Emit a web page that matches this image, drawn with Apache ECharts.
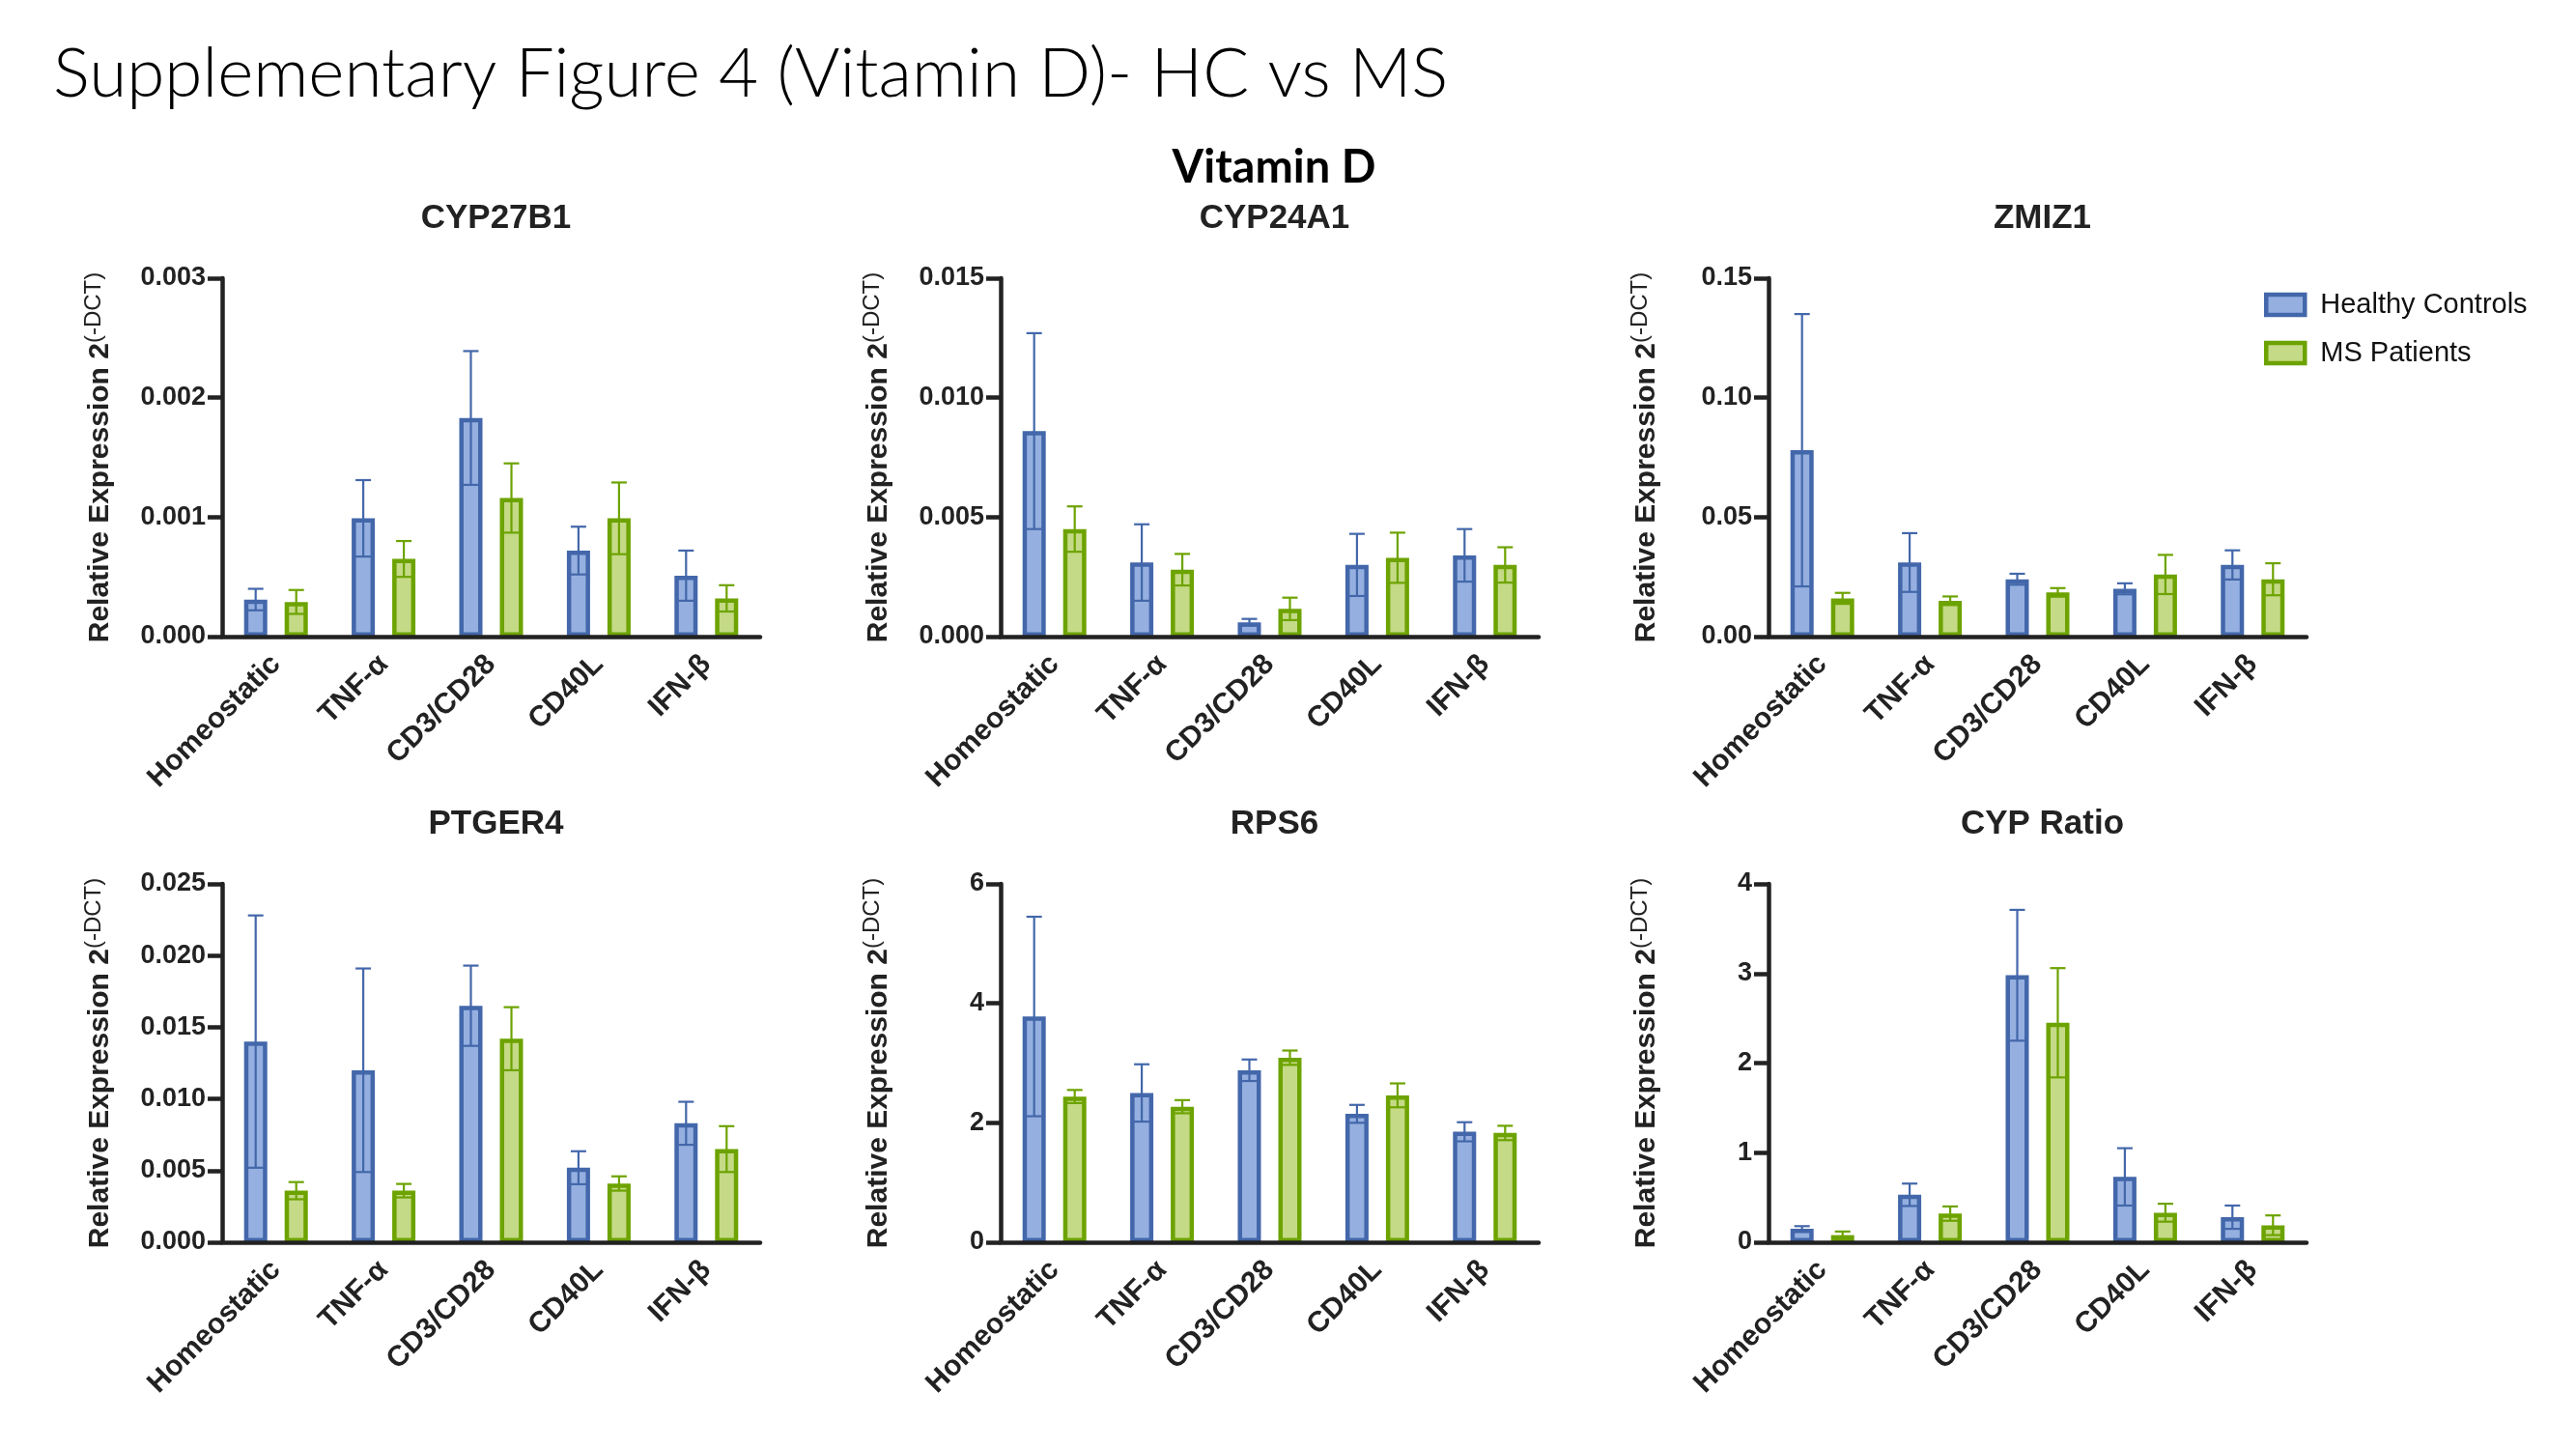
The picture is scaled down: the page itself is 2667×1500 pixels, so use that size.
<!DOCTYPE html>
<html>
<head>
<meta charset="utf-8">
<script src="https://cdn.jsdelivr.net/npm/echarts@6/dist/echarts.min.js"></script>
<style>
  html, body { margin: 0; padding: 0; background: #fff; }
  #main { width: 2667px; height: 1500px; }
</style>
</head>
<body>
<div id="main"></div>
<script type="text/javascript">
    // categories shared by every panel
    var categories = ['Homeostatic', 'TNF-\u03b1', 'CD3/CD28', 'CD40L', 'IFN-\u03b2'];
    var panelTitles = ['CYP27B1', 'CYP24A1', 'ZMIZ1', 'PTGER4', 'RPS6', 'CYP Ratio'];

    // y axis ranges (max, step) and tick label decimals
    var yMax = [0.003, 0.015, 0.15, 0.025, 6, 4];
    var yStep = [0.001, 0.005, 0.05, 0.005, 2, 1];
    var yDecimals = [3, 3, 2, 3, 0, 0];

    // means
    var hcMean = [
        [0.00031, 0.00099, 0.00183, 0.00072, 0.00051],
        [0.0086, 0.0031, 0.0006, 0.0030, 0.0034],
        [0.078, 0.031, 0.024, 0.020, 0.030],
        [0.0140, 0.0120, 0.0165, 0.0052, 0.0083],
        [3.78, 2.50, 2.88, 2.15, 1.85],
        [0.15, 0.53, 2.98, 0.73, 0.28]
    ];
    var msMean = [
        [0.00029, 0.00065, 0.00116, 0.00099, 0.00032],
        [0.0045, 0.0028, 0.00116, 0.0033, 0.0030],
        [0.016, 0.015, 0.0185, 0.026, 0.024],
        [0.0036, 0.0036, 0.0142, 0.0041, 0.0065],
        [2.44, 2.27, 3.09, 2.46, 1.83],
        [0.08, 0.32, 2.45, 0.33, 0.19]
    ];
    // error (SEM)
    var hcErr = [
        [0.00009, 0.00032, 0.00056, 0.00020, 0.00021],
        [0.0041, 0.0016, 0.00014, 0.0013, 0.0011],
        [0.057, 0.0123, 0.0023, 0.0023, 0.0061],
        [0.0088, 0.0071, 0.0028, 0.00115, 0.0015],
        [1.67, 0.48, 0.18, 0.15, 0.16],
        [0.03, 0.125, 0.73, 0.32, 0.13]
    ];
    var msErr = [
        [0.00010, 0.00015, 0.00029, 0.00030, 0.00011],
        [0.00095, 0.00066, 0.00047, 0.00105, 0.00074],
        [0.0023, 0.0018, 0.0018, 0.0082, 0.0067],
        [0.0006, 0.00047, 0.0022, 0.0005, 0.0016],
        [0.11, 0.11, 0.12, 0.20, 0.12],
        [0.04, 0.08, 0.61, 0.10, 0.11]
    ];

    var FONT = "'Liberation Sans', Arial, Helvetica, sans-serif";
    var AXIS = '#222222';
    var HC_LINE = '#4367AA', HC_FILL = '#95B0E0';
    var MS_LINE = '#6DA300', MS_FILL = '#C4DA86';
    var BAR_W = 24, BAR_GAP = 0.75;

    var gridLeft = [230, 1036, 1831];
    var gridTop = [288, 915];
    var GRID_W = 557, GRID_H = 371;

    var chart = echarts.init(document.getElementById('main'));

    var grids = [], xAxes = [], yAxes = [], series = [], titles = [];

    function errorSeries(name, idx, means, errs, color, offset) {
        var data = means.map(function (m, i) { return [i, m, errs[i]]; });
        return {
            type: 'custom',
            name: name,
            xAxisIndex: idx,
            yAxisIndex: idx,
            z: 4,
            silent: true,
            data: data,
            renderItem: function (params, api) {
                var c = api.value(0), m = api.value(1), e = api.value(2);
                var hi = api.coord([c, m + e]);
                var lo = api.coord([c, m - e]);
                var x = hi[0] + offset;
                var capHalf = 8;
                var st = { stroke: color, lineWidth: 2.2 };
                return {
                    type: 'group',
                    children: [
                        { type: 'line', shape: { x1: x, y1: hi[1], x2: x, y2: lo[1] }, style: st },
                        { type: 'line', shape: { x1: x - capHalf, y1: hi[1], x2: x + capHalf, y2: hi[1] }, style: st },
                        { type: 'line', shape: { x1: x - capHalf, y1: lo[1], x2: x + capHalf, y2: lo[1] }, style: st }
                    ]
                };
            }
        };
    }

    for (var i = 0; i < 6; i++) {
        var col = i % 3, row = Math.floor(i / 3);
        grids.push({ left: gridLeft[col], top: gridTop[row], width: GRID_W, height: GRID_H, containLabel: false });
        titles.push({
            text: panelTitles[i],
            left: gridLeft[col] + GRID_W / 2,
            top: gridTop[row] - 84,
            textAlign: 'center',
            textStyle: { fontFamily: FONT, fontSize: 35, fontWeight: 'bold', color: AXIS }
        });
        xAxes.push({
            type: 'category',
            gridIndex: i,
            data: categories,
            z: 6,
            axisLine: { lineStyle: { color: AXIS, width: 4.5 } },
            axisTick: { alignWithLabel: true, length: 16, lineStyle: { color: AXIS, width: 4.5 } },
            axisLabel: { rotate: 45, margin: 24, fontFamily: FONT, fontSize: 30, fontWeight: 'bold', color: AXIS },
            splitLine: { show: false }
        });
        (function (dec) {
            yAxes.push({
                type: 'value',
                gridIndex: i,
                min: 0,
                max: yMax[i],
                interval: yStep[i],
                z: 6,
                name: '{a|Relative Expression 2}{b|(-DCT)}',
                nameLocation: 'middle',
                nameRotate: 90,
                nameGap: 107,
                nameTextStyle: {
                    rich: {
                        a: { fontFamily: FONT, fontSize: 30, fontWeight: 'bold', color: AXIS },
                        b: { fontFamily: FONT, fontSize: 24, color: AXIS, padding: [0, 0, 14, 0] }
                    }
                },
                axisLine: { show: true, lineStyle: { color: AXIS, width: 4.5 } },
                axisTick: { show: true, length: 15, lineStyle: { color: AXIS, width: 4.5 } },
                axisLabel: {
                    margin: 17, fontFamily: FONT, fontSize: 27, fontWeight: 'bold', color: AXIS,
                    formatter: function (v) { return v.toFixed(dec); }
                },
                splitLine: { show: false }
            });
        })(yDecimals[i]);

        series.push({
            type: 'bar', name: 'Healthy Controls', xAxisIndex: i, yAxisIndex: i,
            data: hcMean[i], barWidth: BAR_W, barGap: (BAR_GAP * 100) + '%',
            itemStyle: { color: HC_FILL, borderColor: HC_LINE, borderWidth: 4.5 },
            emphasis: { disabled: true }
        });
        series.push({
            type: 'bar', name: 'MS Patients', xAxisIndex: i, yAxisIndex: i,
            data: msMean[i], barWidth: BAR_W, barGap: (BAR_GAP * 100) + '%',
            itemStyle: { color: MS_FILL, borderColor: MS_LINE, borderWidth: 4.5 },
            emphasis: { disabled: true }
        });
        var off = BAR_W * (1 + BAR_GAP) / 2;
        series.push(errorSeries('Healthy Controls', i, hcMean[i], hcErr[i], HC_LINE, -off));
        series.push(errorSeries('MS Patients', i, msMean[i], msErr[i], MS_LINE, off));
    }

    var option = {
        backgroundColor: '#ffffff',
        animation: false,
        title: titles,
        legend: {
            data: [
                { name: 'Healthy Controls', icon: 'rect', itemStyle: { color: HC_FILL, borderColor: HC_LINE, borderWidth: 4.5 } },
                { name: 'MS Patients', icon: 'rect', itemStyle: { color: MS_FILL, borderColor: MS_LINE, borderWidth: 4.5 } }
            ],
            orient: 'vertical',
            left: 2339,
            top: 296,
            itemWidth: 40,
            itemHeight: 21,
            itemGap: 21,
            textStyle: { fontFamily: FONT, fontSize: 29, color: '#111111', padding: [0, 0, 0, 11] }
        },
        graphic: [
            {
                type: 'text', x: 55, y: 42,
                style: { text: 'Supplementary Figure 4 (Vitamin D)- HC vs MS', font: '300 71px Lato, "Open Sans", sans-serif', fill: '#000' }
            },
            {
                type: 'text', x: 1319, y: 150,
                style: { text: 'Vitamin D', font: 'bold 47px Lato, "Open Sans", sans-serif', fill: '#000', align: 'center' }
            }
        ],
        grid: grids,
        xAxis: xAxes,
        yAxis: yAxes,
        series: series
    };
    chart.setOption(option);
</script>
</body>
</html>
